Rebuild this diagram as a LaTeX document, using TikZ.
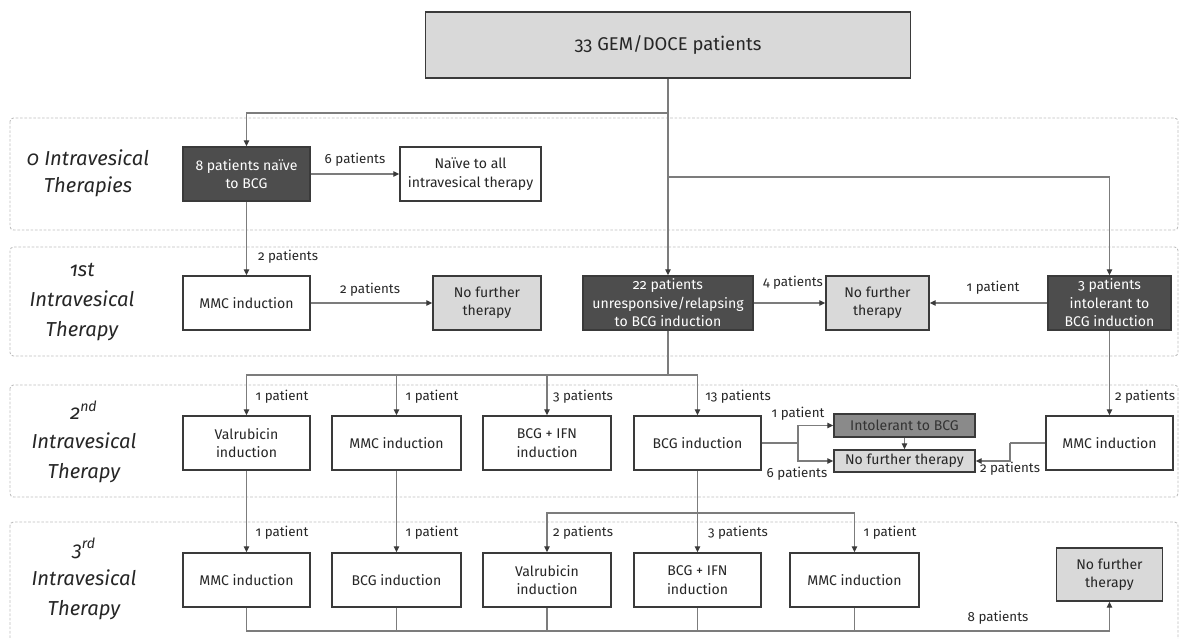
\documentclass[tikz,border=0pt]{standalone}
\usepackage{fontspec}
\setmainfont{Fira Sans}[Numbers=OldStyle]
\usetikzlibrary{arrows.meta}
\newlength\pxu
\setlength\pxu{0.02cm}
\definecolor{darkbox}{HTML}{4D4D4D}
\definecolor{midbox}{HTML}{8A8A8A}
\definecolor{lightbox}{HTML}{D9D9D9}
\definecolor{edgec}{HTML}{3A3A3A}
\definecolor{linec}{HTML}{7C7C7C}
\definecolor{bandc}{HTML}{BDBDBD}
\tikzset{
  box/.style={draw=edgec, line width=0.8pt, fill=white, align=center, inner sep=1pt,
    font=\fontsize{8}{10.5}\selectfont, text=black!85},
  darkb/.style={box, fill=darkbox, text=white},
  lightb/.style={box, fill=lightbox},
  midb/.style={box, fill=midbox, text=black!80},
  conn/.style={draw=linec, line width=0.75pt},
  arr/.style={conn, -{Triangle[length=1.2mm,width=1.1mm,color=edgec]}},
  lbl/.style={font=\fontsize{7.6}{9}\selectfont, text=black!85, inner sep=0pt},
  bandlbl/.style={font=\fontsize{11.5}{17}\selectfont\itshape, align=center, text=black!85, inner sep=0pt},
  band/.style={draw=bandc, line width=0.5pt, dash pattern=on 1.5pt off 1pt, rounded corners=2pt}
}
\begin{document}
\begin{tikzpicture}[x=0.02cm,y=-0.02cm]
\useasboundingbox (0,0) rectangle (1181,639);
\begin{scope}
\clip (0,0) rectangle (1181,639);
\draw[band] (10,118) rectangle (1178,230);
\draw[band] (10,247) rectangle (1178,356);
\draw[band] (10,385) rectangle (1178,497);
\draw[band] (10,522) rectangle (1178,660);
\end{scope}

% band labels
\node[bandlbl, font=\fontsize{11.5}{15.5}\selectfont\itshape] (L0) at (88,173) {0 Intravesical\\Therapies};
\node[bandlbl] (L1) at (82,302) {1st\\Intravesical\\Therapy};
\node[bandlbl] (L2) at (84,442) {2\textsuperscript{nd}\\Intravesical\\Therapy};
\node[bandlbl] (L3) at (84,579) {3\textsuperscript{rd}\\Intravesical\\Therapy};

% nodes
\node[lightb, minimum width=485\pxu, minimum height=66\pxu, font=\fontsize{10.5}{12}\selectfont] (top) at (668,45) {33 GEM/DOCE patients};

\node[darkb, minimum width=127\pxu, minimum height=54\pxu] (n8) at (246.5,174) {8 patients naïve\\to BCG};
\node[box, minimum width=141\pxu, minimum height=54\pxu] (naive) at (470.5,174) {Naïve to all\\intravesical therapy};

\node[box, minimum width=127\pxu, minimum height=54\pxu] (mmc1) at (246.5,303) {MMC induction};
\node[lightb, minimum width=108\pxu, minimum height=54\pxu] (nft1) at (487,303) {No further\\therapy};
\node[darkb, minimum width=170\pxu, minimum height=54\pxu] (p22) at (668,303) {22 patients\\unresponsive/relapsing\\to BCG induction};
\node[lightb, minimum width=103\pxu, minimum height=54\pxu] (nft2) at (877.5,303) {No further\\therapy};
\node[darkb, minimum width=123\pxu, minimum height=54\pxu] (p3) at (1109.5,303) {3 patients\\intolerant to\\BCG induction};

\node[box, minimum width=127\pxu, minimum height=54\pxu] (val2) at (246.5,443) {Valrubicin\\induction};
\node[box, minimum width=129\pxu, minimum height=54\pxu] (mmc2) at (396.5,443) {MMC induction};
\node[box, minimum width=128\pxu, minimum height=54\pxu] (bi2) at (547,443) {BCG + IFN\\induction};
\node[box, minimum width=127\pxu, minimum height=54\pxu] (bcg2) at (697.5,443) {BCG induction};
\node[midb, minimum width=141\pxu, minimum height=23\pxu] (intol) at (904.5,425.5) {Intolerant to BCG};
\node[lightb, minimum width=141\pxu, minimum height=22\pxu] (nft3) at (904.5,461) {No further therapy};
\node[box, minimum width=127\pxu, minimum height=54\pxu] (mmcR) at (1109.5,443) {MMC induction};

\node[box, minimum width=127\pxu, minimum height=54\pxu] (mmc3) at (246.5,580) {MMC induction};
\node[box, minimum width=129\pxu, minimum height=54\pxu] (bcg3) at (396.5,580) {BCG induction};
\node[box, minimum width=128\pxu, minimum height=54\pxu] (val3) at (547,580) {Valrubicin\\induction};
\node[box, minimum width=127\pxu, minimum height=54\pxu] (bi3) at (697.5,580) {BCG + IFN\\induction};
\node[box, minimum width=129\pxu, minimum height=54\pxu] (mmc3b) at (854.5,580) {MMC induction};
\node[lightb, minimum width=106\pxu, minimum height=53\pxu] (nft4) at (1109.5,574.5) {No further\\therapy};

% junctions
\coordinate (j0) at (668,113);
\coordinate (j1) at (668,177);
\coordinate (j2) at (668,375);
\coordinate (j3) at (798,443);
\coordinate (j4) at (1010,443);
\coordinate (j5) at (697.5,513);
\coordinate (j6) at (1109.5,631);

% connectors
\draw[conn] (top.south) -- (j0);
\draw[arr] (j0) -| (n8.north);
\draw[arr] (j0) -- (p22.north);
\draw[arr] (j1) -| (p3.north);
\draw[arr] (n8.east) -- (naive.west);
\draw[arr] (n8.south) -- (mmc1.north);
\draw[arr] (mmc1.east) -- (nft1.west);
\draw[arr] (p22.east) -- (nft2.west);
\draw[arr] (p3.west) -- (nft2.east);
\draw[conn] (p22.south) -- (j2);
\draw[arr] (j2) -| (val2.north);
\draw[arr] (j2) -| (mmc2.north);
\draw[arr] (j2) -| (bi2.north);
\draw[arr] (j2) -| (bcg2.north);
\draw[arr] (p3.south) -- (mmcR.north);
\draw[conn] (bcg2.east) -- (j3);
\draw[arr] (j3) |- (intol.west);
\draw[arr] (j3) |- (nft3.west);
\draw[arr] (intol.south) -- (nft3.north);
\draw[conn] (mmcR.west) -- (j4);
\draw[arr] (j4) |- (nft3.east);
\draw[arr] (val2.south) -- (mmc3.north);
\draw[arr] (mmc2.south) -- (bcg3.north);
\draw[conn] (bcg2.south) -- (j5);
\draw[arr] (j5) -| (val3.north);
\draw[arr] (j5) -- (bi3.north);
\draw[arr] (j5) -| (mmc3b.north);
\draw[conn] (mmc3.south) |- (j6);
\draw[conn] (bcg3.south) -- (bcg3.south |- j6);
\draw[conn] (val3.south) -- (val3.south |- j6);
\draw[conn] (bi3.south) -- (bi3.south |- j6);
\draw[conn] (mmc3b.south) -- (mmc3b.south |- j6);
\draw[arr] (j6) -- (nft4.south);

% connector labels
\node[lbl] (t1) at (355,160) {6 patients};
\node[lbl] (t2) at (288,257) {2 patients};
\node[lbl] (t3) at (370,290) {2 patients};
\node[lbl] (t4) at (793,283) {4 patients};
\node[lbl] (t5) at (993,288) {1 patient};
\node[lbl] (t6) at (282,397) {1 patient};
\node[lbl] (t7) at (432,397) {1 patient};
\node[lbl] (t8) at (583,397) {3 patients};
\node[lbl] (t9) at (738,397) {13 patients};
\node[lbl] (t10) at (1145,397) {2 patients};
\node[lbl] (t11) at (798,414) {1 patient};
\node[lbl] (t12) at (797,474) {6 patients};
\node[lbl] (t13) at (1010,469) {2 patients};
\node[lbl] (t14) at (282,533) {1 patient};
\node[lbl] (t15) at (432,533) {1 patient};
\node[lbl] (t16) at (583,533) {2 patients};
\node[lbl] (t17) at (738,533) {3 patients};
\node[lbl] (t18) at (890,533) {1 patient};
\node[lbl] (t19) at (998,618) {8 patients};
\end{tikzpicture}
\end{document}
